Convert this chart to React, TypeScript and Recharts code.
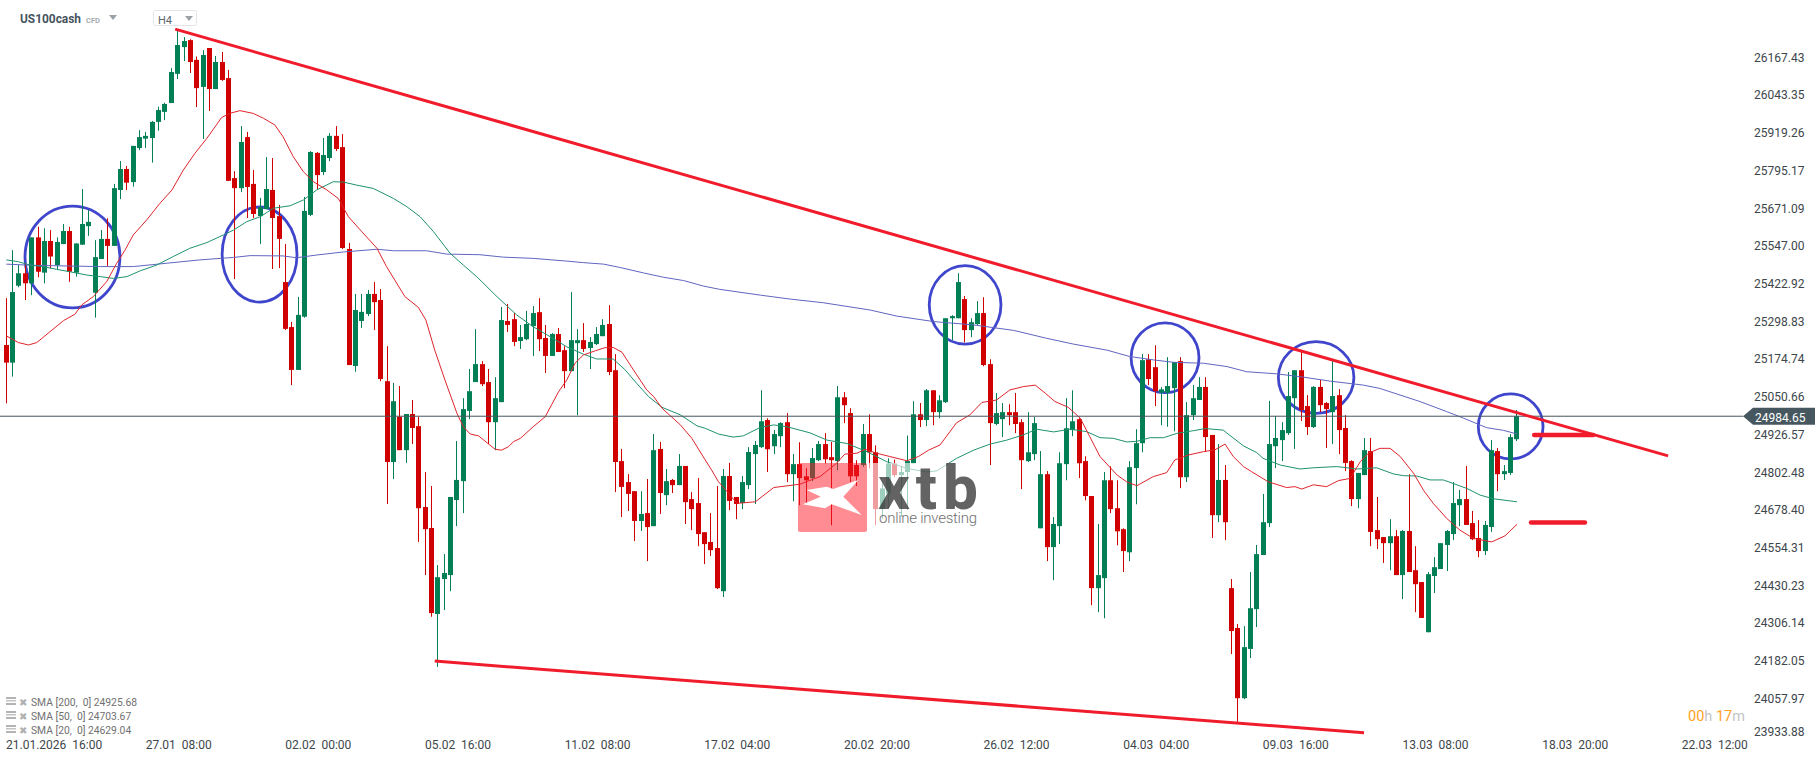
import React from "react";
import { ComposedChart, Bar, Line, XAxis, YAxis, ReferenceLine, ReferenceArea } from "recharts";

const opens = [
  25219,25161,25414,25455,25422,25573,25457,25561,25482,25551,
  25594,25457,25549,25610,25391,25502,25568,25545,25729,25798,
  25755,25867,25898,25900,25953,25986,26015,26111,26199,26222,
  26157,26068,26196,26061,26150,26097,25768,25735,25903,25749,
  25643,25666,25729,25643,25426,25278,25137,25312,25647,25851,
  25788,25834,25907,25870,25535,25150,25298,25321,25387,25367,
  25100,24834,24983,24873,24992,24952,24686,24617,24334,24449,
  24462,24709,24771,25002,25097,25156,25097,24965,25031,25298,
  25304,25232,25238,25281,25327,25242,25183,25255,25202,25133,
  25225,25235,25209,25222,25248,25288,25136,24837,24768,24738,
  24640,24666,24623,24877,24725,24775,24758,24821,24712,24699,
  24603,24571,24551,24409,24788,24719,24699,24758,24860,24883,
  24972,24886,24919,24965,24794,24827,24787,24781,24840,24893,
  24850,24837,25047,24995,24824,24824,24926,24866,24679,24730,
  24829,24791,24801,24830,24991,24972,25070,24998,25031,25307,
  25307,25370,25268,25288,25324,25156,24959,24975,24998,24998,
  24965,24837,24860,24616,24794,24554,24623,24827,24939,24975,
  24837,24722,24419,24452,24774,24682,24613,24537,24814,24896,
  25172,25146,25062,25062,25077,25166,24784,24988,25038,25081,
  24923,24659,24775,24419,24288,24057,24219,24350,24528,24633,
  24886,24906,24929,25044,25136,25018,24949,25081,25028,24998,
  25054,24946,24837,24712,24791,24870,24610,24587,24567,24590,
  24462,24607,24478,24439,24274,24459,24482,24561,24597,24692,
  24712,24633,24584,24541,24620,24870,24794,24798,24909,
];
const closes = [
  25161,25393,25455,25422,25573,25460,25561,25510,25558,25594,
  25460,25553,25617,25624,25508,25568,25545,25735,25798,25753,
  25874,25903,25907,25953,25992,26012,26117,26206,26219,26150,
  26064,26173,26061,26150,26091,25759,25735,25887,25739,25650,
  25673,25732,25637,25568,25272,25137,25318,25660,25854,25778,
  25844,25907,25864,25538,25153,25334,25328,25387,25360,25107,
  24834,25034,24873,24992,24946,24682,24613,24337,24455,24469,
  24719,24775,25008,25067,25156,25090,24965,25044,25301,25285,
  25229,25245,25288,25324,25238,25183,25255,25196,25133,25235,
  25235,25206,25229,25255,25285,25130,24834,24752,24729,24640,
  24663,24620,24873,24732,24771,24758,24821,24702,24679,24597,
  24564,24544,24419,24788,24706,24696,24768,24867,24890,24968,
  24876,24926,24962,24794,24827,24781,24774,24847,24893,24843,
  24840,25047,25021,24787,24787,24926,24866,24679,24747,24829,
  24791,24801,24837,24991,24972,25070,24998,25037,25307,25314,
  25426,25268,25294,25324,25153,24962,24995,24998,24988,24959,
  24840,24866,24962,24794,24554,24630,24830,24945,24968,24830,
  24722,24419,24462,24774,24679,24606,24541,24817,24896,25169,
  25107,25067,25073,25084,25163,24784,24988,25044,25081,24916,
  24659,24775,24636,24278,24057,24225,24353,24531,24636,24893,
  24913,24939,25051,25136,25005,24949,25081,25021,25008,25051,
  24939,24831,24712,24798,24873,24604,24580,24567,24590,24462,
  24607,24472,24432,24321,24465,24488,24567,24607,24699,24712,
  24627,24580,24541,24627,24873,24794,24804,24916,24984.65,
];
const highs = [
  25373,25531,25482,25488,25573,25608,25603,25597,25573,25617,
  25608,25553,25732,25663,25564,25597,25636,25749,25824,25808,
  25874,25926,25920,25956,26003,26016,26130,26255,26232,26225,
  26168,26189,26196,26170,26183,26124,25791,25939,25920,25795,
  25703,25837,25834,25680,25551,25295,25377,25706,25857,25854,
  25900,25916,25939,25913,25555,25387,25387,25400,25426,25403,
  25215,25094,25084,24992,25038,24983,24801,24755,24495,24531,
  24719,24903,25044,25140,25271,25166,25140,25113,25344,25354,
  25324,25285,25331,25347,25373,25285,25258,25275,25215,25393,
  25271,25291,25245,25278,25304,25350,25189,24877,24794,24738,
  24738,24778,24926,24900,24811,24778,24860,24821,24735,24781,
  24603,24666,24755,24811,24831,24719,24788,24883,24903,25070,
  24978,24939,24965,24995,24860,24899,24814,24880,24903,24929,
  24900,25084,25064,25011,24840,24959,24991,24889,24763,24846,
  24842,24818,24921,25034,25028,25074,25070,25054,25307,25317,
  25455,25380,25307,25363,25376,25172,25061,25028,25024,25061,
  24975,24998,24982,24870,24804,24653,24866,25044,25070,24978,
  24853,24722,24630,24801,24820,24774,24616,24837,24942,25189,
  25189,25218,25080,25179,25163,25179,25031,25087,25113,25113,
  24923,24893,24824,24449,24301,24294,24472,24561,24729,25035,
  24985,24965,25130,25136,25202,25054,25084,25104,25031,25166,
  25074,24988,24840,24798,24913,24913,24719,24587,24646,24610,
  24610,24794,24557,24439,24472,24521,24567,24610,24768,24742,
  24821,24673,24643,24640,24906,24880,24824,24926,25005,
];
const lows = [
  25027,25115,25409,25367,25383,25442,25422,25471,25468,25551,
  25427,25444,25548,25578,25309,25502,25479,25545,25699,25729,
  25740,25860,25867,25819,25924,25959,26015,26094,26153,26114,
  26002,25897,25989,26061,26088,25759,25436,25722,25637,25637,
  25551,25666,25469,25472,25268,25087,25137,25309,25643,25732,
  25778,25824,25857,25535,25153,25131,25275,25314,25268,25100,
  24696,24778,24873,24831,24893,24571,24462,24325,24160,24347,
  24409,24623,24666,24975,25097,25084,24893,24873,25031,25262,
  25215,25206,25235,25183,25199,25127,25183,25196,25077,25133,
  24988,25196,25140,25219,25248,25120,24735,24653,24673,24574,
  24607,24508,24623,24663,24692,24732,24758,24630,24610,24557,
  24498,24525,24416,24390,24676,24646,24679,24745,24696,24880,
  24801,24860,24883,24768,24705,24692,24698,24771,24837,24829,
  24626,24807,24962,24768,24755,24818,24813,24626,24648,24681,
  24785,24654,24676,24829,24949,24952,24955,24978,25028,25235,
  25307,25228,25245,25284,25149,24824,24955,24916,24955,24929,
  24745,24834,24840,24616,24508,24445,24564,24774,24919,24781,
  24708,24363,24340,24320,24666,24560,24472,24508,24695,24866,
  25087,25018,24955,24950,24935,24748,24768,24972,25038,24868,
  24584,24636,24577,24202,23979,24054,24189,24291,24528,24620,
  24814,24837,24923,24877,24969,24923,24946,24998,24880,24893,
  24860,24804,24689,24682,24791,24557,24548,24502,24478,24462,
  24383,24472,24340,24321,24274,24403,24482,24475,24577,24623,
  24627,24577,24521,24528,24604,24738,24775,24791,24903,
];

const sma20Index = [0,1.9,3.5,4.8,6.9,9,10.8,11.9,13.7,15.8,17.4,18.7,20,22.1,24.2,26.1,27.9,29.7,31.6,33.1,33.9,35.2,36.8,38.9,40.5,42.3,43.6,45.2,46.8,48.4,50.5,52.3,53.9,56,58.4,59.9,62.8,64.9,66.1,67.5,69.1,71,72,73.1,74.4,77,78,79.1,79.9,81,83,84.9,85.9,87,88.3,89.6,90.9,92.8,94.3,95.6,97,98.8,100.9,102,103.3,106.2,108,110.1,111.1,112.2,113.8,115.1,118,120.9,125,128.2,130.8,132.1,134,135.3,137.1,139.2,141.9,143.7,145.3,147.1,149.7,151.8,153.7,156,158.1,160.2,162.1,163.7,165.2,167.3,169.2,170.7,172.3,175,176.5,178.1,180.7,182.8,184.1,186.2,188.6,190.4,192,193.3,194.9,196.2,198.8,201.7,203,204.1,205.9,208,209.9,211.7,213.3,214.6,216.4,218,219.6,221.7,223.3,224.8,226.9,229,231.1,234,236.1,238];
const sma20Values = [25249,25227,25219,25227,25263,25299,25320,25351,25378,25427,25488,25531,25581,25630,25685,25729,25795,25849,25899,25943,25967,25981,25990,25981,25965,25943,25904,25839,25789,25756,25729,25701,25641,25592,25537,25477,25378,25343,25301,25202,25104,24994,24950,24926,24920,24876,24873,24884,24901,24912,24950,24983,25022,25065,25104,25159,25186,25200,25210,25211,25195,25137,25071,25049,25011,24956,24912,24841,24808,24769,24731,24698,24703,24750,24761,24786,24830,24860,24863,24876,24863,24852,24838,24852,24873,24890,24963,24989,25030,25038,25071,25082,25087,25060,25033,25014,24978,24917,24852,24791,24769,24756,24786,24799,24841,24857,24868,24874,24893,24852,24819,24802,24769,24750,24753,24745,24759,24753,24773,24780,24835,24863,24879,24879,24852,24797,24740,24698,24649,24610,24583,24571,24591,24629];

const sma50Index = [0,1.9,3.7,5.8,7.9,10,12.7,14.8,16.9,19,21.1,23.7,26.3,28.9,31.6,34.2,35.8,37.9,40,42.1,44.7,46.8,48.9,51.5,53.1,55.2,57.8,61,63.1,65.2,67.3,69.9,72,74.1,77.3,80.4,83,85.7,88.3,90.9,93,95.6,97.5,99.3,101.2,103.3,106.2,108.8,110.1,112.2,114.5,116.1,118.8,120.9,123,126.6,129.3,132.4,135.6,138.7,141.9,145,146.6,149.7,152.4,155,157.6,160.2,162.3,165,167.6,170.2,172.3,174.4,176.5,178.1,180.2,182.3,184.4,187,188.9,191.7,194.9,197,198,200.7,203.8,205.9,209.6,212.8,215.9,218.5,220.1,222.2,224.3,226.4,230.1,232.2,234.3,238];
const sma50Values = [25499,25493,25482,25477,25468,25460,25449,25444,25438,25444,25463,25482,25510,25537,25556,25581,25597,25625,25641,25669,25677,25696,25729,25756,25755,25745,25734,25701,25674,25641,25592,25521,25482,25444,25378,25318,25279,25246,25213,25189,25173,25173,25137,25093,25049,25014,24989,24953,24945,24926,24916,24920,24948,24956,24950,24930,24906,24895,24868,24835,24813,24801,24805,24846,24873,24893,24906,24923,24942,24933,24942,24934,24914,24912,24900,24902,24914,24914,24928,24937,24944,24939,24887,24865,24846,24824,24811,24815,24819,24811,24815,24795,24789,24788,24775,24775,24747,24725,24713,24703];

const sma200Index = [0,4.3,9.5,14.8,20,25.3,30.5,35.8,38.4,43.6,45.7,48.9,53.1,58.4,61,66.2,69.4,74.6,78.3,83,88.3,90.9,94.1,96.7,100.4,103.5,106.7,109.8,112.4,118.8,123.5,128.7,136.1,140.3,146.1,152.4,158.7,163.9,168.1,173.4,177,180.7,183.9,188.6,192.3,195.4,200.2,204.4,208.6,213.8,216.4,222.7,226.9,229.6,233.2,235.9,238];
const sma200Values = [25485,25481,25479,25477,25477,25488,25499,25507,25513,25512,25506,25515,25525,25534,25529,25529,25518,25516,25508,25504,25495,25490,25485,25474,25456,25442,25431,25413,25402,25383,25370,25358,25334,25314,25296,25285,25267,25241,25222,25202,25181,25170,25162,25159,25148,25131,25124,25113,25100,25087,25076,25033,25000,24978,24947,24938,24926];

const resistanceLine = [{ i: 26.6, v: 26258 }, { i: 261.8, v: 24854 }];
const supportLine = [{ i: 67.5, v: 24179 }, { i: 213.9, v: 23943 }];
const upperMark = [{ i: 240.7, v: 24923 }, { i: 250, v: 24923 }];
const lowerMark = [{ i: 240.2, v: 24635 }, { i: 248.7, v: 24635 }];

const circles = [
  { i1: 2.95, i2: 17.9, v1: 25341, v2: 25676 },
  { i1: 34, i2: 45.8, v1: 25360, v2: 25673 },
  { i1: 145.4, i2: 156.7, v1: 25222, v2: 25480 },
  { i1: 177.2, i2: 187.9, v1: 25062, v2: 25292 },
  { i1: 200.4, i2: 212.3, v1: 24994, v2: 25230 },
  { i1: 231.9, i2: 242.1, v1: 24844, v2: 25058 },
];

const priceTicks = [26167.43,26043.35,25919.26,25795.17,25671.09,25547.0,25422.92,25298.83,25174.74,25050.66,24926.57,24802.48,24678.4,24554.31,24430.23,24306.14,24182.05,24057.97,23933.88];
const timeTickIndex = [5,27,49,71,93,115,137,159,181,203,225,247,269];
const timeTickLabels = ["21.01.2026  16:00","27.01  08:00","02.02  00:00","05.02  16:00","11.02  08:00","17.02  04:00","20.02  20:00","26.02  12:00","04.03  04:00","09.03  16:00","13.03  08:00","18.03  20:00","22.03  12:00"];
const legendRows = ["SMA [200,  0] 24925.68", "SMA [50,  0] 24703.67", "SMA [20,  0] 24629.04"];
const lastPrice = 24984.65;

const candles = opens.map((o, i) => ({ i, o, h: highs[i], l: lows[i], c: closes[i] }));
const toPoints = (xs: number[], vs: number[]) => xs.map((i, k) => ({ i, v: vs[k] }));

const GREEN = "#027f55";
const RED = "#d10000";
const FONT = "Roboto, sans-serif";

const Candle = (props: any) => {
  const { x, y, width, height, payload } = props;
  const { o, h, l, c } = payload;
  const up = c >= o;
  const color = up ? GREEN : RED;
  const k = height / (h - l);
  const top = y + (h - Math.max(o, c)) * k;
  const bottom = y + (h - Math.min(o, c)) * k;
  const cx = Math.round(x + width / 2 - 0.5);
  return (
    <g>
      <rect x={cx} y={y} width={1} height={height} fill={color} />
      <rect x={cx - 2} y={top} width={5} height={Math.max(bottom - top, 1)} fill={color} />
    </g>
  );
};

const CircleShape = (props: any) => {
  const { x, y, width, height } = props;
  return (
    <ellipse cx={x + width / 2} cy={y + height / 2} rx={width / 2} ry={height / 2} fill="none" stroke="#3f46cc" strokeWidth={2.8} />
  );
};

const PriceTick = (props: any) => {
  const { x, y, payload } = props;
  const last = payload.value === priceTicks[priceTicks.length - 1];
  return (
    <text x={x + 5} y={y + (last ? -3.5 : 0.8)} dy="0.35em" textAnchor="start" fontFamily={FONT} fontSize={12} fill="#3d464b">
      {payload.value.toFixed(2)}
    </text>
  );
};

const TimeTick = (props: any) => {
  const { x, payload } = props;
  const idx = timeTickIndex.indexOf(payload.value);
  const first = idx === 0;
  return (
    <text x={first ? x - 32 : x + 1} y={745} dy="0.35em" textAnchor={first ? "start" : "middle"} fontFamily={FONT} fontSize={12} fill="#3d464b" style={{ whiteSpace: "pre" }}>
      {timeTickLabels[idx]}
    </text>
  );
};

const PriceTag = (props: any) => {
  const { viewBox } = props;
  const right = viewBox.x + viewBox.width;
  const yy = viewBox.y;
  return (
    <g>
      <polygon points={`${right},${yy} ${right + 10},${yy - 8.5} 1815,${yy - 8.5} 1815,${yy + 8.5} ${right + 10},${yy + 8.5}`} fill="#47575f" />
      <text x={right + 12} y={yy + 1.5} dy="0.35em" fontFamily={FONT} fontSize={12} fill="#ffffff">{lastPrice.toFixed(2)}</text>
    </g>
  );
};

const Overlay = () => (
  <svg width={1815} height={761} style={{ position: "absolute", left: 0, top: 0, pointerEvents: "none" }}>
    <rect x={867} y={463} width={112} height={69} fill="rgba(255,255,255,0.62)" />
    <rect x={798} y={463} width={69} height={69} rx={2} fill="rgba(255,25,40,0.5)" />
    <polygon points="806.7,490 826.7,486.7 833.3,489 858.3,480 843.3,496.7 861.7,515 831.7,504.3 825,508.3 802.7,504.3 820.7,496.7" fill="#ffffff" />
    <text x={878} y={508.5} fontFamily={FONT} fontWeight={800} fontSize={62} textLength={100} lengthAdjust="spacing" fill="rgba(50,50,50,0.76)">xtb</text>
    <text x={879} y={523} fontFamily={FONT} fontWeight={300} fontSize={15} textLength={98} lengthAdjust="spacing" fill="#6f6f6f">online investing</text>

    <text x={20} y={23} fontFamily={FONT} fontWeight={700} fontSize={13} textLength={61} lengthAdjust="spacingAndGlyphs" fill="#46545d">US100cash</text>
    <text x={86} y={22.5} fontFamily={FONT} fontWeight={700} fontSize={8} textLength={14} lengthAdjust="spacingAndGlyphs" fill="#a6adb2">CFD</text>
    <polygon points="109,15 117,15 113,20" fill="#9aa2a8" />
    <rect x={153.5} y={10.5} width={43} height={15} rx={2} fill="#ffffff" stroke="#e3e6e8" />
    <text x={158} y={24} fontFamily={FONT} fontSize={11} fill="#5c676e">H4</text>
    <polygon points="185,16 193,16 189,21" fill="#9aa2a8" />

    {legendRows.map((row, k) => (
      <g key={row}>
        <rect x={6} y={697 + k * 14} width={10} height={2} fill="#b4b4b4" />
        <rect x={6} y={700 + k * 14} width={10} height={1.5} fill="#c4c4c4" />
        <rect x={6} y={703 + k * 14} width={10} height={2} fill="#b4b4b4" />
        <text x={19} y={705.5 + k * 14} fontFamily="'DejaVu Sans', sans-serif" fontSize={10} fill="#b0b0b0">✖</text>
        <text x={31} y={705.5 + k * 14} fontFamily={FONT} fontSize={10.3} fill="#707070" style={{ whiteSpace: "pre" }}>{row}</text>
      </g>
    ))}

    <text x={1688} y={720.5} fontFamily={FONT} fontSize={14.5} fill="#ffa126">00<tspan fill="#c4c4c4">h</tspan> 17<tspan fill="#c4c4c4">m</tspan></text>
  </svg>
);

export default function App() {
  return (
    <div style={{ position: "absolute", left: 0, top: 0, width: 1815, height: 761, overflow: "hidden", background: "#ffffff" }}>
      <ComposedChart width={1815} height={761} data={candles} margin={{ top: 0, right: 0, bottom: 0, left: 0 }}>
        <XAxis
          dataKey="i"
          type="number"
          domain={[-0.9926, 273.6]}
          allowDataOverflow
          ticks={timeTickIndex}
          interval={0}
          height={23}
          axisLine={false}
          tickLine={false}
          tick={<TimeTick />}
        />
        <YAxis
          orientation="right"
          type="number"
          domain={[23926, 26354]}
          allowDataOverflow
          ticks={priceTicks}
          interval={0}
          width={72}
          axisLine={false}
          tickLine={false}
          tickMargin={0}
          tick={<PriceTick />}
        />
        <Bar dataKey={(d: any) => [d.l, d.h]} barSize={5} shape={<Candle />} isAnimationActive={false} />
        <Line data={toPoints(sma200Index, sma200Values)} dataKey="v" stroke="#6066c0" strokeWidth={1} dot={false} activeDot={false} isAnimationActive={false} />
        <Line data={toPoints(sma50Index, sma50Values)} dataKey="v" stroke="#1f9270" strokeWidth={1} dot={false} activeDot={false} isAnimationActive={false} />
        <Line data={toPoints(sma20Index, sma20Values)} dataKey="v" stroke="#e0242c" strokeWidth={1} dot={false} activeDot={false} isAnimationActive={false} />
        <ReferenceLine y={lastPrice} stroke="#47555e" strokeWidth={1} label={<PriceTag />} />
        <Line data={resistanceLine} dataKey="v" stroke="#f01c2c" strokeWidth={3} dot={false} activeDot={false} isAnimationActive={false} />
        <Line data={supportLine} dataKey="v" stroke="#f01c2c" strokeWidth={3} dot={false} activeDot={false} isAnimationActive={false} />
        <Line data={upperMark} dataKey="v" stroke="#f01c2c" strokeWidth={4.5} strokeLinecap="round" dot={false} activeDot={false} isAnimationActive={false} />
        <Line data={lowerMark} dataKey="v" stroke="#f01c2c" strokeWidth={4.5} strokeLinecap="round" dot={false} activeDot={false} isAnimationActive={false} />
        {circles.map((c, k) => (
          <ReferenceArea key={k} x1={c.i1} x2={c.i2} y1={c.v1} y2={c.v2} shape={<CircleShape />} ifOverflow="visible" />
        ))}
      </ComposedChart>
      <Overlay />
    </div>
  );
}
